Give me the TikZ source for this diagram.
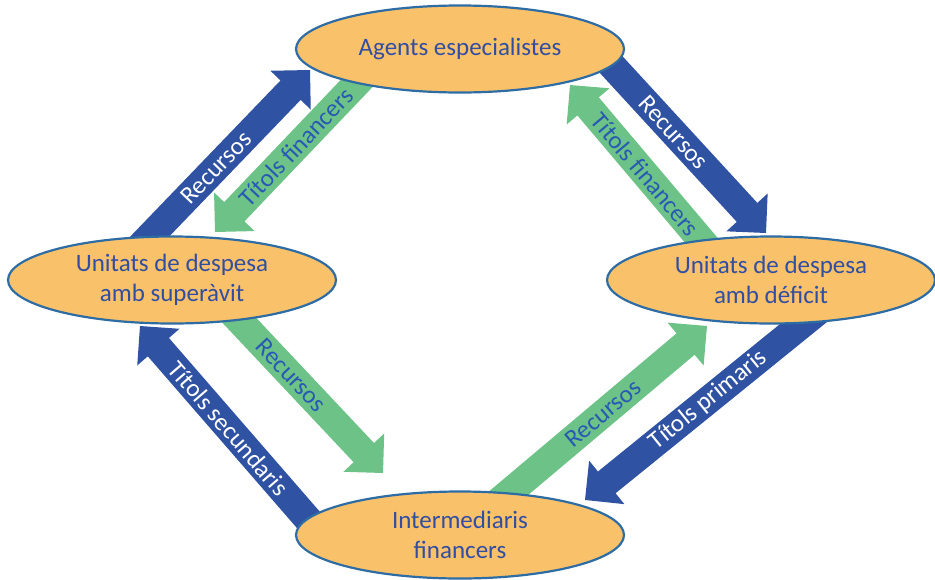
\documentclass[tikz,border=0pt]{standalone}
\usepackage{fontspec}
\setmainfont{Carlito}
\usetikzlibrary{shapes.geometric,calc}
\definecolor{ellfill}{RGB}{250,193,107}
\definecolor{elldraw}{RGB}{46,108,164}
\definecolor{elltext}{RGB}{50,78,160}
\definecolor{arrblue}{RGB}{47,82,162}
\definecolor{arrgreen}{RGB}{108,194,135}
\definecolor{greentext}{RGB}{40,90,180}
\pgfdeclarelayer{bg}
\pgfsetlayers{bg,main}
\newcommand\fatarrow[3]{%
  \path ($(#3)!28pt!(#2)$) coordinate (fa-c);
  \fill[#1] ($(#2)!14pt!90:(#3)$) -- ($(fa-c)!14pt!90:(#3)$) -- ($(fa-c)!28pt!90:(#3)$) -- (#3)
    -- ($(fa-c)!28pt!-90:(#3)$) -- ($(fa-c)!14pt!-90:(#3)$) -- ($(#2)!14pt!-90:(#3)$) -- cycle;}
\tikzset{
  ell/.style={ellipse, draw=elldraw, line width=2.2pt, fill=ellfill, inner sep=0pt,
    minimum width=328pt, minimum height=87pt, text=elltext, align=center,
    font=\fontsize{25}{30.5}\selectfont},
  lblw/.style={sloped, text=white, font=\fontsize{25}{30}\selectfont, inner sep=0pt},
  lblg/.style={sloped, text=greentext, font=\fontsize{25}{30}\selectfont, inner sep=0pt}
}
\begin{document}
\begin{tikzpicture}[x=1pt,y=-1pt]
\useasboundingbox (0,0) rectangle (935,579);
\node[ell] (top) at (460,49) {Agents especialistes};
\node[ell] (left) at (172,280) {Unitats de despesa\\amb superàvit};
\node[ell] (right) at (771,280) {Unitats de despesa\\amb déficit};
\node[ell] (bot) at (460,535) {Intermediaris\\financers};
% arrow end points
\coordinate (a1) at (131,256); \coordinate (a2) at (310,70);
\coordinate (b1) at (379,60);  \coordinate (b2) at (215,232);
\coordinate (c1) at (595,47);  \coordinate (c2) at (766,233);
\coordinate (d1) at (718,260); \coordinate (d2) at (570,85);
\coordinate (e1) at (223,303); \coordinate (e2) at (383,473);
\coordinate (f1) at (325,539); \coordinate (f2) at (140,326);
\coordinate (g1) at (491,508); \coordinate (g2) at (707,326);
\coordinate (h1) at (827,304); \coordinate (h2) at (585,500);
\begin{pgfonlayer}{bg}
\fatarrow{arrblue}{a1}{a2}
\fatarrow{arrgreen}{b1}{b2}
\fatarrow{arrblue}{c1}{c2}
\fatarrow{arrgreen}{d1}{d2}
\fatarrow{arrgreen}{e1}{e2}
\fatarrow{arrblue}{f1}{f2}
\fatarrow{arrgreen}{g1}{g2}
\fatarrow{arrblue}{h1}{h2}
\end{pgfonlayer}
\path (a1) -- (a2) node[lblw, pos=0.475] {Recursos};
\path (b1) -- (b2) node[lblg, pos=0.506] {Títols financers};
\path (c1) -- (c2) node[lblw, pos=0.46] {Recursos};
\path (d1) -- (d2) node[lblg, pos=0.49] {Títols financers};
\path (e1) -- (e2) node[lblg, pos=0.425] {Recursos};
\path (f1) -- (f2) node[lblw, pos=0.52] {Títols secundaris};
\path (g1) -- (g2) node[lblg, pos=0.52] {Recursos};
\path (h1) -- (h2) node[lblw, pos=0.49] {Títols primaris};
\end{tikzpicture}
\end{document}
